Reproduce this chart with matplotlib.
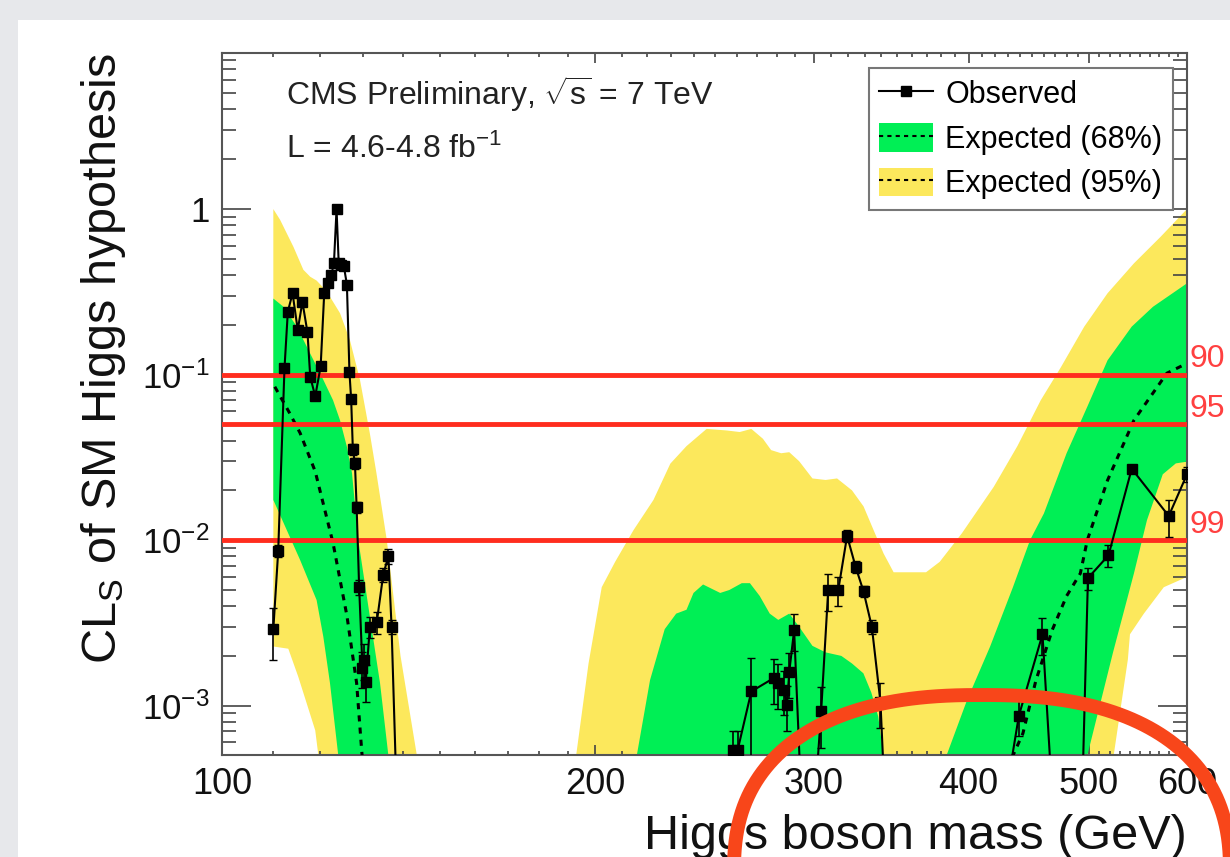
"""
cls_higgs.py - CLs of the SM Higgs hypothesis vs Higgs mass (CMS 7 TeV style).
"""
import numpy as np
import matplotlib
matplotlib.use("Agg")
import matplotlib.pyplot as plt
from matplotlib.patches import Patch, Rectangle
from matplotlib.lines import Line2D
from matplotlib.legend_handler import HandlerTuple
from matplotlib.ticker import FixedLocator, FixedFormatter, NullFormatter

plt.rcParams['font.family'] = ['Liberation Sans', 'DejaVu Sans']
plt.rcParams['mathtext.fontset'] = 'custom'
plt.rcParams['mathtext.rm'] = 'Liberation Sans'
plt.rcParams['mathtext.it'] = 'Liberation Sans:italic'
plt.rcParams['mathtext.bf'] = 'Liberation Sans:bold'

# ---- expected bands (edges, 3e-4 = below the axis) ----
u95_mass = [110, 111.4, 114.2, 116.3, 117.8, 119.2, 121.4, 124.5, 126.8, 129.2, 131.6, 133.2,
            135.8, 139.3, 143.6, 146, 190, 193.0, 197.5, 202.4, 207.5, 214.7, 222.8, 229.9,
            236.9, 245.9, 255.2, 261.5, 267.2, 273, 277.2, 282.4, 286.7, 292, 299.3, 306.7,
            313.3, 322.1, 329.1, 335.3, 341.6, 348, 369.6, 379.1, 395, 419.1, 437.9, 457.3,
            474.8, 495.8, 517.7, 543.7, 571.3, 600]
u95_val = [1.0, 0.86, 0.59, 0.43, 0.39, 0.37, 0.32, 0.235, 0.162, 0.093, 0.044, 0.0255,
           0.01, 0.002, 5e-4, 3e-4, 3e-4, 5e-4, 0.0018, 0.0052, 0.0074, 0.0115, 0.0175, 0.029,
           0.037, 0.047, 0.046, 0.045, 0.047, 0.041, 0.035, 0.0335, 0.034, 0.030, 0.0236, 0.0231,
           0.0236, 0.020, 0.016, 0.0115, 0.0083, 0.0064, 0.0064, 0.0074, 0.011, 0.021, 0.037, 0.070,
           0.111, 0.195, 0.31, 0.47, 0.68, 1.0]

l95_mass = [110, 113.1, 115.2, 117.0, 118.9, 119.6, 121, 522, 523.6, 537.6, 539.7, 553.8, 574.7, 600]
l95_val = [0.00228, 0.00221, 0.0015, 0.00104, 7.1e-4, 5e-4, 3e-4, 3e-4, 5e-4, 0.0019, 0.0027,
           0.0036, 0.0052, 0.006]

u68_mass = [110, 112.1, 114.9, 117.8, 120.7, 122.9, 124.5, 126.1, 127.3, 128.8, 131.6, 134.1,
            136.2, 138, 214, 216.0, 221.4, 227.5, 232.4, 236.9, 240, 244.3, 252.2, 256.5, 262.5,
            266.5, 271.4, 276.5, 280.9, 286.7, 292, 299.3, 306.7, 315.8, 322.1, 329, 333.9,
            338.2, 341.5, 343, 382, 383.9, 398.8, 416.3, 434.3, 448.3, 460, 479.8, 498.6, 517.7,
            541.5, 563.3, 600]
u68_val = [0.288, 0.257, 0.195, 0.134, 0.093, 0.070, 0.053, 0.0367, 0.0254, 0.01, 0.00345, 0.00137,
           5e-4, 3e-4, 3e-4, 5e-4, 0.00143, 0.0029, 0.0036, 0.0038, 0.0048, 0.0054, 0.0048, 0.005,
           0.0055, 0.0055, 0.0046, 0.0036, 0.0033, 0.0036, 0.003, 0.0023, 0.0021, 0.002, 0.0018,
           0.00157, 0.0012, 8.6e-4, 5e-4, 3e-4, 3e-4, 5e-4, 0.00108, 0.00228, 0.0052, 0.01, 0.0145,
           0.0335, 0.064, 0.122, 0.195, 0.257, 0.356]

l68_mass = [110, 115.6, 119.2, 120.7, 122.2, 124.1, 125.5, 497, 498.6, 523, 543.7, 557, 573.6, 587.7, 600]
l68_val = [0.0175, 0.0076, 0.00435, 0.00261, 0.00137, 5e-4, 3e-4, 3e-4, 5e-4, 0.0021, 0.0063,
           0.0132, 0.025, 0.0291, 0.0298]

exp_mass = [110.3, 113.4, 115.6, 118.9, 122.9, 126.1, 128.4, 129.6, 130.5, 433, 434.3, 442.4,
            453.2, 467.2, 479.8, 492.2, 498.6, 517.7, 543.7, 578, 600]
exp_val = [0.0845, 0.0584, 0.0444, 0.026, 0.0096, 0.0035, 0.00137, 5.4e-4, 3e-4, 3e-4, 5e-4,
           6.8e-4, 0.00142, 0.00287, 0.0046, 0.0063, 0.01, 0.023, 0.053, 0.102, 0.117]

# ---- observed ----
obs_mass = [110.0, 111.0, 112.3, 113.0, 114.0, 115.1, 116.1, 117.2, 117.8, 118.9, 120.1, 120.9,
            121.8, 122.5, 123.1, 123.7, 124.2, 124.8, 125.4, 126.1, 126.7, 127.1, 127.5, 128.0,
            128.4, 129.0, 129.8, 130.2, 130.6, 131.6, 133.3, 134.9, 136.2, 137.0, 138.5,
            249, 258.2, 260.5, 267.2, 278.6, 280.9, 283.7, 285.5, 286.7, 289.3, 293, 301,
            304.2, 308.2, 314, 319.2, 324.3, 329.1, 334.2, 339.6, 343,
            429, 439.1, 458.8, 467, 494, 499.2, 518.6, 541.5, 580, 600]
obs_val = [0.0029, 0.0086, 0.109, 0.24, 0.31, 0.186, 0.275, 0.18, 0.097, 0.074, 0.112, 0.31,
           0.36, 0.40, 0.47, 1.0, 0.47, 0.46, 0.45, 0.35, 0.103, 0.071, 0.0354, 0.0291,
           0.0158, 0.0052, 0.0017, 0.0019, 0.0014, 0.0030, 0.0032, 0.0062, 0.0080, 0.0030, 2e-4,
           3e-4, 5.4e-4, 5.4e-4, 0.00122, 0.00147, 0.00137, 0.00125, 0.00101, 0.0016, 0.00286, 3e-4, 3e-4,
           9.3e-4, 0.005, 0.005, 0.0106, 0.0069, 0.0049, 0.003, 0.00105, 2e-4,
           3e-4, 8.7e-4, 0.0027, 3e-4, 3e-4, 0.0059, 0.0081, 0.027, 0.014, 0.025]
obs_err = [0.35, 0.08, 0.05, 0.05, 0.05, 0.05, 0.05, 0.05, 0.05, 0.05, 0.05, 0.05,
           0.05, 0.05, 0.05, 0.03, 0.05, 0.05, 0.05, 0.05, 0.05, 0.05, 0.08, 0.08,
           0.08, 0.1, 0.25, 0.25, 0.25, 0.15, 0.15, 0.1, 0.1, 0.1, 0.0,
           0.0, 0.3, 0.3, 0.6, 0.3, 0.3, 0.3, 0.3, 0.3, 0.25, 0.0, 0.0,
           0.4, 0.25, 0.2, 0.08, 0.08, 0.08, 0.1, 0.3, 0.0,
           0.0, 0.25, 0.25, 0.0, 0.0, 0.15, 0.15, 0.05, 0.25, 0.1]

cl_levels = [0.1, 0.05, 0.01]
cl_labels = ["90", "95", "99"]

x_ticks = [100, 200, 300, 400, 500, 600]
y_ticks = [1e-3, 1e-2, 1e-1, 1]
y_tick_labels = ["$10^{-3}$", "$10^{-2}$", "$10^{-1}$", "1"]

GREEN = "#00ef55"
YELLOW = "#fce85c"
RED = "#ff2d1e"
W, H = 1230, 857


def px(x, y):
    """pixel position (origin top-left) -> figure fraction"""
    return x / W, 1 - y / H


fig = plt.figure(figsize=(W / 100, H / 100), dpi=100)
fig.patch.set_facecolor("#e7e8eb")
fig.add_artist(Rectangle(px(18, H), 1, 1 - 20 / H, transform=fig.transFigure,
                         facecolor="white", edgecolor="none", zorder=0))

l, b = px(222, 755)
r, t = px(1187, 52.7)
ax = fig.add_axes([l, b, r - l, t - b])
ax.set_xscale("log")
ax.set_yscale("log")

# bands
ax.fill(np.concatenate([u95_mass, l95_mass[::-1]]), np.concatenate([u95_val, l95_val[::-1]]),
        color=YELLOW, lw=0, zorder=1)
ax.fill(np.concatenate([u68_mass, l68_mass[::-1]]), np.concatenate([u68_val, l68_val[::-1]]),
        color=GREEN, lw=0, zorder=2)
ax.plot(exp_mass, exp_val, color="k", lw=2.2, dashes=(2, 2), zorder=3)

for lev, lab in zip(cl_levels, cl_labels):
    ax.axhline(lev, color=RED, lw=3.5, zorder=4)
    ax.annotate(lab, xy=(1.003, lev), xycoords=("axes fraction", "data"),
                xytext=(0, 5.5), textcoords="offset points", color="#ff4040",
                fontsize=23, ha="left", va="baseline", annotation_clip=False)

obs_val_a = np.array(obs_val)
obs_err_a = np.array(obs_err)
ax.errorbar(obs_mass, obs_val, yerr=[obs_val_a * obs_err_a, obs_val_a * obs_err_a],
            fmt="-s", color="k", ms=7, lw=1.5, elinewidth=1.2, capsize=3, zorder=5)

ax.set_xlim(100, 600)
ax.set_ylim(5.04e-4, 8.8)

ax.xaxis.set_major_locator(FixedLocator(x_ticks))
ax.xaxis.set_major_formatter(FixedFormatter([str(v) for v in x_ticks]))
ax.xaxis.set_minor_locator(FixedLocator(np.arange(110, 600, 10)))
ax.xaxis.set_minor_formatter(NullFormatter())
ax.yaxis.set_major_locator(FixedLocator(y_ticks))
ax.yaxis.set_major_formatter(FixedFormatter(y_tick_labels))

ax.tick_params(which="both", direction="in", top=True, right=True, color="#444",
               width=1.2, labelcolor="#111")
ax.tick_params(axis="x", which="major", length=7, pad=9, labelsize=26)
ax.tick_params(axis="x", which="minor", length=3)
ax.tick_params(axis="y", which="major", length=21, pad=9, labelsize=25)
ax.tick_params(axis="y", which="minor", length=10)
for s in ax.spines.values():
    s.set_color("#555")
    s.set_linewidth(1.5)

ax.set_xlabel("Higgs boson mass (GeV)", fontsize=35, loc="right", labelpad=8, color="#111")
ax.set_ylabel("CL$_{\\mathrm{S}}$ of SM Higgs hypothesis", fontsize=35, loc="top",
              labelpad=10, color="#111")

ax.text(0.066, 0.9255, "CMS Preliminary, $\\sqrt{\\mathrm{s}}$ = 7 TeV", transform=ax.transAxes,
        fontsize=23, va="baseline", ha="left", color="#222")
ax.text(0.066, 0.8496, "L = 4.6-4.8 fb$^{-1}$", transform=ax.transAxes,
        fontsize=23, va="baseline", ha="left", color="#222")

handles = [Line2D([], [], color="k", marker="s", ms=7, lw=1.5),
           (Patch(facecolor=GREEN, edgecolor="none"), Line2D([], [], color="k", lw=1.5, dashes=(2, 2))),
           (Patch(facecolor=YELLOW, edgecolor="none"), Line2D([], [], color="k", lw=1.5, dashes=(2, 2)))]
leg = ax.legend(handles, ["Observed", "Expected (68%)", "Expected (95%)"],
                handler_map={tuple: HandlerTuple(ndivide=1, pad=0)},
                loc="upper right", bbox_to_anchor=(0.9855, 0.978), fontsize=22,
                fancybox=False, framealpha=1, edgecolor="#777", borderpad=0.35,
                labelspacing=0.42, handlelength=1.75, handleheight=1.05, handletextpad=0.4,
                borderaxespad=0)
leg.get_frame().set_linewidth(1.5)
leg.set_zorder(10)

# hand-drawn red circle annotation
tt = np.linspace(0, 2 * np.pi, 400)
n_exp = 2.4
ex = 982 + 248 * np.sign(np.cos(tt)) * np.abs(np.cos(tt)) ** (2 / n_exp)
ey = 872 - 177 * np.sign(np.sin(tt)) * np.abs(np.sin(tt)) ** (2 / n_exp)
fx, fy = px(ex, ey)
fig.add_artist(Line2D(fx, fy, transform=fig.transFigure, color="#f8461a", lw=10,
                      solid_capstyle="round", zorder=20))

fig.savefig("out.png", dpi=100, facecolor=fig.get_facecolor())
